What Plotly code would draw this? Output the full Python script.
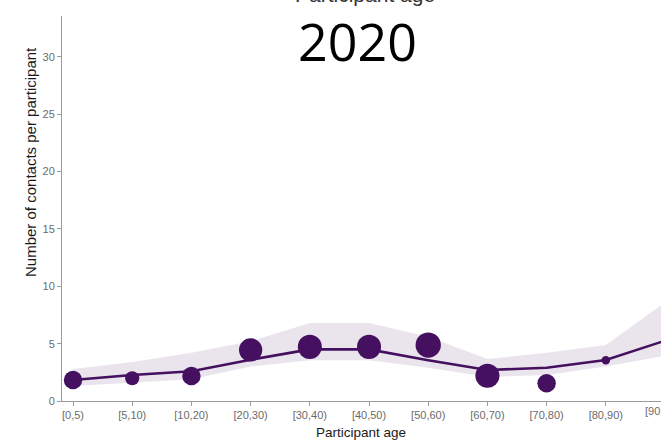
import plotly.graph_objects as go

# ---- data ----
age_groups = ["[0,5)", "[5,10)", "[10,20)", "[20,30)", "[30,40)", "[40,50)",
              "[50,60)", "[60,70)", "[70,80)", "[80,90)", "[90,100)"]
observed = [1.83, 1.98, 2.18, 4.45, 4.72, 4.72, 4.88, 2.2, 1.54, 3.55]
n_participants = [170, 100, 170, 270, 290, 290, 320, 290, 170, 36]
fitted = [1.83, 2.27, 2.6, 3.6, 4.5, 4.5, 3.55, 2.7, 2.9, 3.57, 5.26]
upper = [2.8, 3.4, 4.2, 5.2, 6.8, 6.8, 5.6, 3.66, 4.2, 4.88, 8.6]
lower = [1.3, 1.6, 1.9, 3.0, 3.55, 3.55, 2.9, 2.1, 2.27, 3.0, 3.95]
y_ticks = [0, 5, 10, 15, 20, 25, 30]
year_label = "2020"

PURPLE = "#44105f"
BAND = "rgba(68,16,95,0.11)"

fig = go.Figure()
fig.add_trace(go.Scatter(x=age_groups, y=lower, mode="lines",
                         line=dict(width=0, color=BAND), hoverinfo="skip",
                         showlegend=False))
fig.add_trace(go.Scatter(x=age_groups, y=upper, mode="lines", fill="tonexty",
                         fillcolor=BAND, line=dict(width=0, color=BAND),
                         hoverinfo="skip", showlegend=False))
fig.add_trace(go.Scatter(x=age_groups, y=fitted, mode="lines",
                         line=dict(color=PURPLE, width=2.6), showlegend=False))
fig.add_trace(go.Scatter(x=age_groups[:len(observed)], y=observed, mode="markers",
                         marker=dict(color=PURPLE, size=n_participants,
                                     sizemode="area", sizeref=1, opacity=1,
                                     line=dict(width=0)),
                         showlegend=False))

x_lo, x_hi = -0.186, 9.932
fig.update_layout(
    width=661, height=440,
    margin=dict(l=62, r=0, t=16, b=39),
    paper_bgcolor="white", plot_bgcolor="white",
    font=dict(family="Liberation Sans, Arial, sans-serif"),
    xaxis=dict(type="category", categoryorder="array", categoryarray=age_groups,
               range=[x_lo, x_hi], showgrid=False, zeroline=False,
               showline=True, linecolor="#9a9a9a", linewidth=1,
               ticks="outside", ticklen=4, tickcolor="#9a9a9a",
               tickfont=dict(size=11, color="#6b6b6b")),
    yaxis=dict(range=[0, 33.57], tickvals=y_ticks, showgrid=False,
               zeroline=False, showline=True, linecolor="#9a9a9a", linewidth=1,
               ticks="outside", ticklen=4, tickcolor="#9a9a9a",
               tickfont=dict(size=11, color="#6b6b6b")),
)

# partially visible last tick label
fig.add_annotation(text=age_groups[-1], xref="paper", yref="paper",
                   x=(10 - x_lo) / (x_hi - x_lo), y=0, yshift=-10,
                   xanchor="center", yanchor="middle", showarrow=False,
                   font=dict(size=11, color="#6b6b6b"))
# axis titles
fig.add_annotation(text="Participant age", xref="paper", yref="paper",
                   x=0.499, y=0, yshift=-31, xanchor="center", yanchor="middle",
                   showarrow=False, font=dict(size=13.5, color="#1a1a1a"))
fig.add_annotation(text="Number of contacts per participant", xref="paper",
                   yref="paper", x=0, xshift=-32, y=(401 - 162) / 385,
                   textangle=-90, xanchor="center", yanchor="middle",
                   showarrow=False, font=dict(size=15, color="#1a1a1a"))
# top title, cut off
fig.add_annotation(text="Participant age", xref="paper", yref="paper",
                   x=(365 - 62) / 599, y=1, yshift=22, xanchor="center",
                   yanchor="middle", showarrow=False,
                   font=dict(size=21, color="#333333"))
# year
fig.add_annotation(text=year_label, xref="paper", yref="paper",
                   x=(357 - 62) / 599, y=1, yshift=-24, xanchor="center",
                   yanchor="middle", showarrow=False,
                   font=dict(size=52, color="black",
                             family="Open Sans, Noto Sans, sans-serif"))

fig.write_html("out.html", config={"displayModeBar": False},
               post_script="document.body.style.margin='0';"
                           "document.body.style.overflow='hidden';")
